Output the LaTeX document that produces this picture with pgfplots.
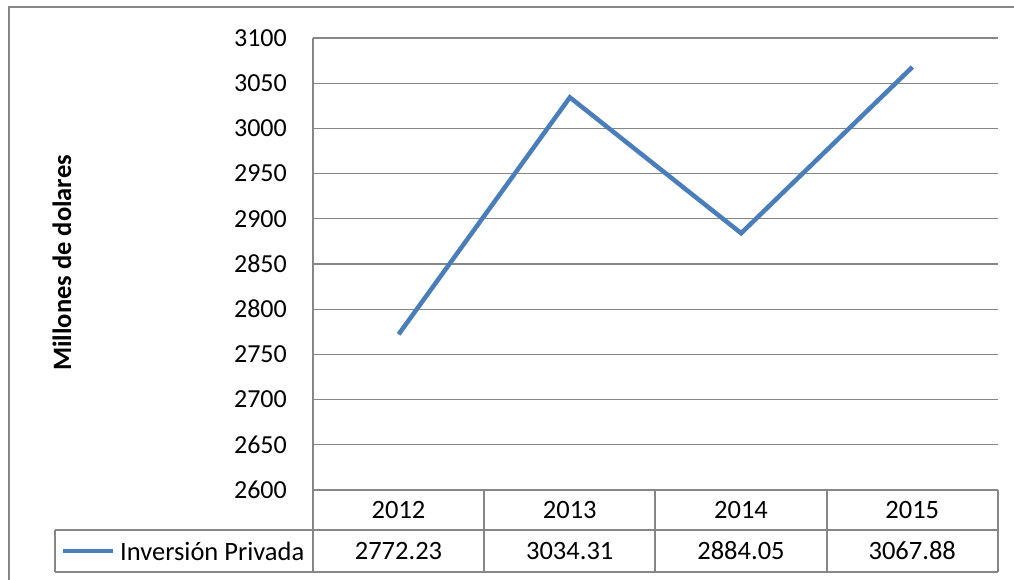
\documentclass[border=0pt]{standalone}
\usepackage{fontspec}
\setmainfont{Carlito}
\usepackage{pgfplots}
\pgfplotsset{compat=1.18}
\definecolor{gridgray}{RGB}{134,134,134}
\definecolor{serieblue}{RGB}{74,126,187}
\begin{document}
\fontsize{26.5}{31}\selectfont
\begin{tikzpicture}[x=1pt,y=1pt]
% picture frame, 1 pt = 1 px of the reference
\useasboundingbox (0,0) rectangle (1014,580);
\draw[gridgray, line width=1.3pt] (9,0) -- (9,573) -- (1014,573);

\begin{axis}[
    at={(313pt,90pt)}, anchor=south west,
    scale only axis, width=685pt, height=452pt,
    xmin=-0.5, xmax=3.5, ymin=2600, ymax=3100,
    ytick distance=50,
    xtick=\empty,
    axis x line=none,
    axis y line=left,
    y axis line style={-, gridgray, line width=1.3pt},
    major tick length=0pt,
    ymajorgrids,
    grid style={gridgray, line width=1.3pt},
    yticklabel style={font=\fontsize{26}{31}\selectfont, inner sep=0pt},
    yticklabel shift=26pt,
    /pgf/number format/assume math mode=true,
    /pgf/number format/1000 sep={},
    clip=false,
]
\addplot[serieblue, line width=4.5pt] coordinates {
    (0,2772.23) (1,3034.31) (2,2884.05) (3,3067.88)};
\end{axis}

% axis title
\node[rotate=90, font=\fontsize{26.5}{31}\selectfont\bfseries] at (62,317) {Millones de dolares};

% data table
\begin{scope}[gridgray, line width=1.3pt]
\draw (313,90) -- (998,90);
\draw (55,50) -- (998,50);
\draw (55,8) -- (998,8);
\draw (55,8) -- (55,50);
\draw (313,8) -- (313,90);
\foreach \xx in {484,655,827,998} \draw (\xx,8) -- (\xx,90);
\end{scope}
\foreach \yr/\val [count=\i from 0] in {2012/2772.23, 2013/3034.31, 2014/2884.05, 2015/3067.88} {
  \node at ({398.5+171.25*\i},70) {\yr};
  \node at ({398.5+171.25*\i},29) {\val};
}
\draw[serieblue, line width=4.5pt] (63,29) -- (113,29);
\node[anchor=west, inner sep=0pt] at (120,29) {Inversión Privada};
\end{tikzpicture}
\end{document}
